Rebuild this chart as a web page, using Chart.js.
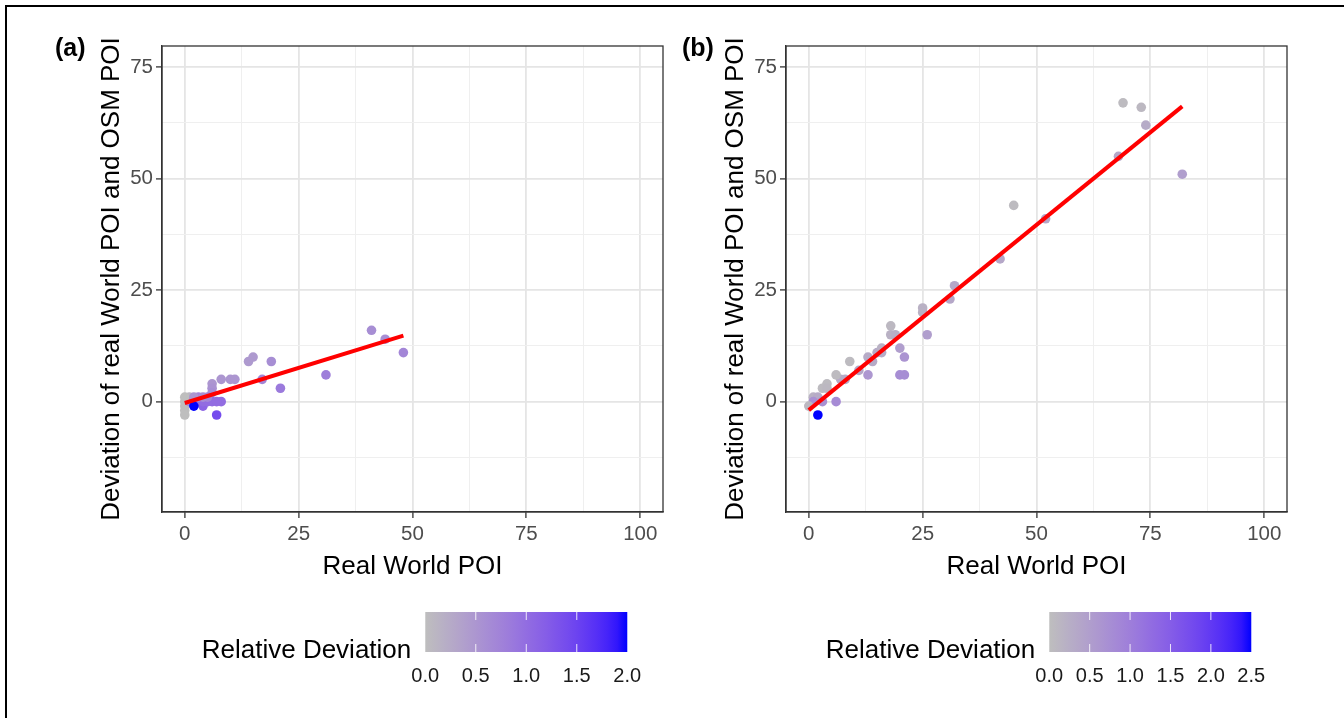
<!DOCTYPE html>
<html>
<head>
<meta charset="utf-8">
<script src="https://cdn.jsdelivr.net/npm/chart.js@4.4.1/dist/chart.umd.min.js"></script>
<style>
  body { margin: 0; width: 1344px; height: 718px; background: #fff; overflow: hidden; position: relative; font-family: "Liberation Sans", Arial, sans-serif; }
  #frame { position: absolute; left: 5px; top: 5px; width: 1400px; height: 800px; border-left: 2px solid #000; border-top: 2px solid #000; }
  canvas { position: absolute; top: 0; }
  #chartA { left: 0; }
  #chartB { left: 624px; }
  .tag { position: absolute; top: 33px; font-weight: bold; font-size: 25px; color: #000; }
</style>
</head>
<body>
<div id="frame"></div>
<canvas id="chartA" width="672" height="718"></canvas>
<canvas id="chartB" width="720" height="718"></canvas>
<div class="tag" style="left:55px">(a)</div>
<div class="tag" style="left:682px">(b)</div>
<script>
// panel (a)
const aX   = [41, 44, 48, 31, 21, 19, 14, 15, 17, 8, 10, 11, 6, 6, 6, 8, 7, 0, 0, 0, 0, 1, 2, 3, 4, 4, 5, 6, 7, 1, 3, 5, 0, 2, 4, 2];
const aY   = [16, 14, 11, 6, 3, 9, 9, 10, 5, 5, 5, 5, 4, 3, 2, 0, -3, 0, -1, -2, -3, 1, 0, 0, -1, 0, 0, 0, 0, 0, 1, 1, 1, 1, 1, -1];
const aRel = [0.6, 0.6, 0.7, 0.8, 0.85, 0.6, 0.45, 0.45, 0.7, 0.5, 0.5, 0.5, 0.5, 0.55, 0.6, 1.0, 1.4, 0, 0, 0, 0, 0.1, 1.0, 1.0, 1.1, 1.0, 1.0, 1.0, 1.0, 0.6, 0.7, 0.7, 0, 0.5, 0.6, 2.0];
const aFitX = [0, 48];
const aFitY = [-0.3, 14.8];
const aRelTicks = [0, 0.5, 1, 1.5, 2];

// panel (b)
const bX   = [69, 73, 74, 68, 82, 45, 52, 42, 32, 31, 25, 25, 26, 18, 18, 19, 20, 21, 20, 21, 13, 13, 14, 15, 16, 16, 9, 11, 7, 8, 6, 6, 4, 3, 4, 1, 2, 1, 3, 0, 2];
const bY   = [67, 66, 62, 55, 51, 44, 41, 32, 26, 23, 21, 20, 15, 17, 15, 15, 12, 10, 6, 6, 10, 6, 9, 11, 11, 12, 9, 7, 5, 5, 6, 0, 4, 3, 3, 1, 1, 0, 0, -1, -3];
const bRel = [0.05, 0.1, 0.3, 0.35, 0.5, 0.05, 0.35, 0.35, 0.35, 0.35, 0.2, 0.2, 0.5, 0.1, 0.2, 0.25, 0.5, 0.65, 0.75, 0.75, 0.3, 0.6, 0.3, 0.3, 0.3, 0.2, 0.05, 0.35, 0.3, 0.3, 0.05, 0.8, 0.05, 0.05, 0.1, 0.2, 0.3, 0.7, 0.7, 0.1, 2.5];
const bFitX = [0, 82];
const bFitY = [-1.9, 66.2];
const bRelTicks = [0, 0.5, 1, 1.5, 2, 2.5];

const FONT = '"Liberation Sans", Arial, sans-serif';

// grey -> blue, interpolated in Lab like ggplot's gradient
function toLab(hex) {
  const c = [1, 3, 5].map(i => parseInt(hex.substr(i, 2), 16) / 255)
    .map(v => v <= 0.04045 ? v / 12.92 : Math.pow((v + 0.055) / 1.055, 2.4));
  const X = (0.4124 * c[0] + 0.3576 * c[1] + 0.1805 * c[2]) / 0.95047;
  const Y = 0.2126 * c[0] + 0.7152 * c[1] + 0.0722 * c[2];
  const Z = (0.0193 * c[0] + 0.1192 * c[1] + 0.9505 * c[2]) / 1.08883;
  const f = t => t > 0.008856 ? Math.cbrt(t) : 7.787 * t + 16 / 116;
  return [116 * f(Y) - 16, 500 * (f(X) - f(Y)), 200 * (f(Y) - f(Z))];
}
function fromLab(lab) {
  const fy = (lab[0] + 16) / 116, fx = fy + lab[1] / 500, fz = fy - lab[2] / 200;
  const g = t => t * t * t > 0.008856 ? t * t * t : (t - 16 / 116) / 7.787;
  const X = g(fx) * 0.95047, Y = g(fy), Z = g(fz) * 1.08883;
  const rgb = [
    3.2406 * X - 1.5372 * Y - 0.4986 * Z,
    -0.9689 * X + 1.8758 * Y + 0.0415 * Z,
    0.0557 * X - 0.2040 * Y + 1.0570 * Z
  ].map(v => {
    v = v <= 0.0031308 ? 12.92 * v : 1.055 * Math.pow(v, 1 / 2.4) - 0.055;
    return Math.round(Math.min(1, Math.max(0, v)) * 255);
  });
  return 'rgb(' + rgb.join(',') + ')';
}
const LOW = toLab('#BEBEBE');
const HIGH = toLab('#0000FF');
function relColor(v, max) {
  const t = Math.min(1, Math.max(0, v / max));
  return fromLab(LOW.map((l, i) => l + (HIGH[i] - l) * t));
}

const panelBorder = {
  id: 'panelBorder',
  afterDatasetsDraw(chart) {
    const { ctx, chartArea: a } = chart;
    ctx.save();
    ctx.strokeStyle = '#333';
    ctx.lineWidth = 1.3;
    ctx.strokeRect(a.left, a.top, a.right - a.left, a.bottom - a.top);
    ctx.restore();
  }
};

const colorbar = {
  id: 'colorbar',
  afterDraw(chart, args, opts) {
    const { ctx, chartArea: a } = chart;
    const barW = 202, barH = 40, gap = 14, barTop = 612;
    ctx.save();
    ctx.font = '26px ' + FONT;
    const titleW = ctx.measureText(opts.title).width;
    const left = (a.left + a.right) / 2 + 2 - (titleW + gap + barW) / 2;
    const barX = left + titleW + gap;
    ctx.fillStyle = '#000';
    ctx.textAlign = 'left';
    ctx.textBaseline = 'middle';
    ctx.fillText(opts.title, left, barTop + 39);

    const grad = ctx.createLinearGradient(barX, 0, barX + barW, 0);
    for (let i = 0; i <= 20; i++) grad.addColorStop(i / 20, relColor(opts.max * i / 20, opts.max));
    ctx.fillStyle = grad;
    ctx.fillRect(barX, barTop, barW, barH);

    ctx.strokeStyle = 'rgba(255,255,255,0.85)';
    ctx.lineWidth = 1;
    ctx.font = '20px ' + FONT;
    ctx.fillStyle = '#1a1a1a';
    ctx.textAlign = 'center';
    opts.ticks.forEach(v => {
      const x = barX + v / opts.max * barW;
      if (v > 0 && v < opts.max) {
        ctx.beginPath();
        ctx.moveTo(x, barTop); ctx.lineTo(x, barTop + 8);
        ctx.moveTo(x, barTop + barH - 8); ctx.lineTo(x, barTop + barH);
        ctx.stroke();
      }
      ctx.fillText(v.toFixed(1), x, barTop + 64);
    });
    ctx.restore();
  }
};

function gridOpts() {
  return {
    color: c => c.tick && c.tick.value % 25 === 0 ? '#e5e5e5' : '#efefef',
    lineWidth: c => c.tick && c.tick.value % 25 === 0 ? 1.8 : 1,
    tickLength: 6,
    tickWidth: 1.3,
    tickColor: c => c.tick && c.tick.value % 25 === 0 ? '#333' : 'rgba(0,0,0,0)'
  };
}

function makeChart(id, xs, ys, rel, fitX, fitY, relMax, relTicks, padRight) {
  const points = xs.map((x, i) => ({ x: x, y: ys[i] }));
  const fit = fitX.map((x, i) => ({ x: x, y: fitY[i] }));
  return new Chart(document.getElementById(id), {
    type: 'scatter',
    data: {
      datasets: [
        {
          type: 'line',
          data: fit,
          borderColor: '#ff0000',
          borderWidth: 4,
          pointRadius: 0,
          fill: false,
          order: 0
        },
        {
          data: points,
          pointBackgroundColor: rel.map(v => relColor(v, relMax)),
          pointBorderWidth: 0,
          pointRadius: 4.8,
          order: 1
        }
      ]
    },
    options: {
      responsive: false,
      animation: false,
      layout: { padding: { left: 96, top: 46, right: padRight, bottom: 136 } },
      plugins: {
        legend: { display: false },
        tooltip: { enabled: false },
        colorbar: { title: 'Relative Deviation', max: relMax, ticks: relTicks }
      },
      scales: {
        x: {
          type: 'linear',
          min: -5,
          max: 105,
          afterFit: s => { s.height = 70; },
          ticks: {
            stepSize: 12.5, includeBounds: false, autoSkip: false, maxRotation: 0, padding: 4,
            color: '#4d4d4d', font: { family: FONT, size: 20.5 },
            callback: v => v % 25 === 0 ? v : ''
          },
          grid: gridOpts(),
          border: { display: true, color: '#333', width: 1.3 },
          title: { display: true, text: 'Real World POI', color: '#000', font: { family: FONT, size: 26 }, padding: 0 }
        },
        y: {
          type: 'linear',
          min: -24.75,
          max: 79.75,
          afterFit: s => { s.width = 66; },
          ticks: {
            stepSize: 12.5, includeBounds: false, autoSkip: false, padding: 3,
            color: '#4d4d4d', font: { family: FONT, size: 20.5 },
            callback: v => v % 25 === 0 ? v : ''
          },
          grid: gridOpts(),
          border: { display: true, color: '#333', width: 1.3 },
          title: { display: true, text: 'Deviation of real World POI and OSM POI', color: '#000', font: { family: FONT, size: 26 }, padding: 0 }
        }
      }
    },
    plugins: [panelBorder, colorbar]
  });
}

makeChart('chartA', aX, aY, aRel, aFitX, aFitY, 2, aRelTicks, 9);
makeChart('chartB', bX, bY, bRel, bFitX, bFitY, 2.5, bRelTicks, 57);
</script>
</body>
</html>
